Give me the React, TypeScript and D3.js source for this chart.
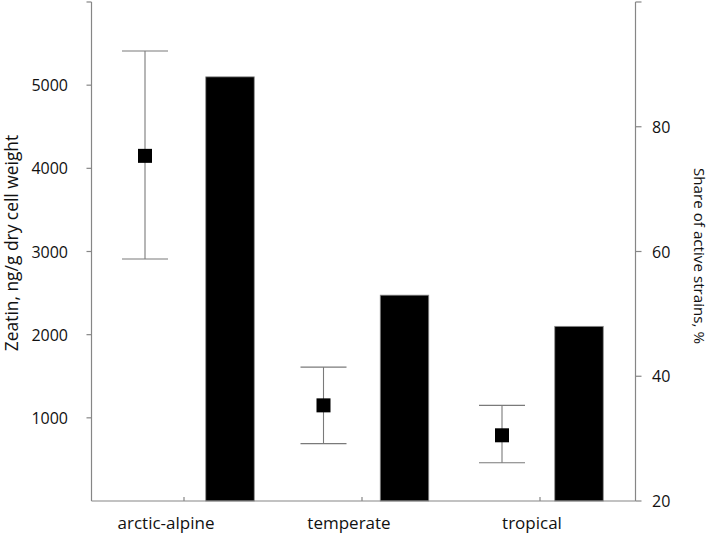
import React from "react";
import * as d3 from "d3";

const categories = ["arctic-alpine", "temperate", "tropical"];
const zeatinMean = [4150, 1150, 790];
const zeatinUpper = [5410, 1610, 1150];
const zeatinLower = [2910, 690, 460];
const activeShare = [88, 53, 48];
const leftTicks = [1000, 2000, 3000, 4000, 5000];
const rightTicks = [20, 40, 60, 80];

const W = 712;
const H = 533;
const L = 91.5;
const R = 635.5;
const T = 2;
const B = 501;
const FONT = "'Open Sans', 'Noto Sans', sans-serif";

export default function App() {
  const yL = d3.scaleLinear().domain([0, 6000]).range([B, T]);
  const yR = d3.scaleLinear().domain([20, 100]).range([B, T]);
  const xPoint = d3.scalePoint<string>().domain(categories).range([145, 502]);
  const xBar = d3.scalePoint<string>().domain(categories).range([230, 579]);
  const xLabel = d3.scalePoint<string>().domain(categories).range([166, 532]);
  const xTick = d3.scalePoint<string>().domain(categories).range([184, 540]);
  const barW = 48.5;
  const capW = 46;
  const sq = 14;
  const axisColor = "#868686";
  const errColor = "#7a7a7a";

  return (
    <svg width={W} height={H} style={{ position: "absolute", left: 0, top: 0, background: "#fff" }}>
      <rect x={0} y={0} width={W} height={H} fill="#fff" />
      {categories.map((c, i) => (
        <rect
          key={"b" + c}
          x={(xBar(c) as number) - barW / 2}
          y={yR(activeShare[i])}
          width={barW}
          height={B - yR(activeShare[i])}
          fill="#000"
          stroke="#8a8a8a"
          strokeWidth={0.8}
        />
      ))}
      {categories.map((c, i) => {
        const x = xPoint(c) as number;
        const yu = yL(zeatinUpper[i]);
        const yl = yL(zeatinLower[i]);
        return (
          <g key={"e" + c} stroke={errColor} strokeWidth={1.1} fill="none">
            <line x1={x} x2={x} y1={yu} y2={yl} />
            <line x1={x - capW / 2} x2={x + capW / 2} y1={yu} y2={yu} />
            <line x1={x - capW / 2} x2={x + capW / 2} y1={yl} y2={yl} />
          </g>
        );
      })}
      {categories.map((c, i) => (
        <rect
          key={"p" + c}
          x={(xPoint(c) as number) - sq / 2}
          y={yL(zeatinMean[i]) - sq / 2}
          width={sq}
          height={sq}
          fill="#000"
        />
      ))}
      <g stroke={axisColor} strokeWidth={1.2} fill="none">
        <line x1={L} x2={L} y1={T} y2={B} />
        <line x1={R} x2={R} y1={T} y2={B} />
        <line x1={L} x2={R} y1={B} y2={B} />
        <line x1={L - 5} x2={L} y1={T} y2={T} />
        {leftTicks.map((t) => (
          <line key={"lt" + t} x1={L - 5} x2={L} y1={yL(t)} y2={yL(t)} />
        ))}
        <line x1={R} x2={R + 6} y1={T} y2={T} />
        {rightTicks.map((t) => (
          <line key={"rt" + t} x1={R} x2={R + 6} y1={yR(t)} y2={yR(t)} />
        ))}
        {categories.map((c) => (
          <line key={"xt" + c} x1={xTick(c) as number} x2={xTick(c) as number} y1={B} y2={B - 4} />
        ))}
      </g>
      <g fontFamily={FONT} fill="#111">
        {leftTicks.map((t) => (
          <text key={"ll" + t} x={68} y={yL(t)} fontSize={16} textAnchor="end" dominantBaseline="central">
            {t}
          </text>
        ))}
        {rightTicks.map((t) => (
          <text key={"rl" + t} x={652} y={yR(t)} fontSize={16} textAnchor="start" dominantBaseline="central">
            {t}
          </text>
        ))}
        {categories.map((c) => (
          <text key={"cl" + c} x={xLabel(c) as number} y={522} fontSize={17} textAnchor="middle" dominantBaseline="central">
            {c}
          </text>
        ))}
        <text
          transform={`translate(11,243) rotate(-90)`}
          fontSize={17.4}
          textAnchor="middle"
          dominantBaseline="central"
        >
          Zeatin, ng/g dry cell weight
        </text>
        <text
          transform={`translate(700,256) rotate(90)`}
          fontSize={15.2}
          textAnchor="middle"
          dominantBaseline="central"
        >
          Share of active strains, %
        </text>
      </g>
    </svg>
  );
}
